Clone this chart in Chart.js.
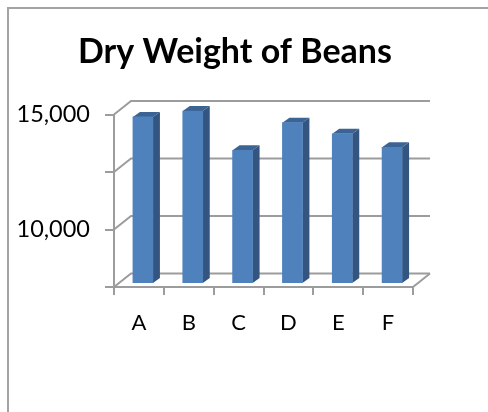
<!DOCTYPE html>
<html lang="en">
<head>
    <meta charset="UTF-8">
    <title>Dry Weight of Beans</title>
    <script src="https://cdn.jsdelivr.net/npm/chart.js"></script>
    <style>
        html, body { margin: 0; padding: 0; background: #fff; }
        #wrap { width: 488px; height: 412px; position: relative; }
    </style>
</head>
<body>
    <div id="wrap"><canvas id="beans"></canvas></div>

    <script>
    const categories = ['A', 'B', 'C', 'D', 'E', 'F'];
    const dryWeight = [14720, 14980, 13270, 14470, 13990, 13400];
    const labelledTicks = [10000, 15000];

    const GRID = '#9c9c9c';
    const FONT = 'Lato, Carlito, sans-serif';
    const WALL = { dx: 17, dy: -13.5 };   // how far the back wall sits behind the axes
    const BAR = { dx: 4, dy: -4, depthX: 7, depthY: -5 };

    // fake 3D: back wall, floor and the side/top faces of the bars
    const fake3d = {
        id: 'fake3d',
        beforeDraw(chart) {
            const { ctx } = chart;
            ctx.save();
            ctx.strokeStyle = '#a3a3a3';
            ctx.lineWidth = 2;
            ctx.beginPath();
            ctx.moveTo(8, 412);
            ctx.lineTo(8, 8);
            ctx.lineTo(488, 8);
            ctx.stroke();
            ctx.restore();
        },
        beforeDatasetsDraw(chart) {
            const { ctx, chartArea: { left, right }, scales: { y } } = chart;
            ctx.save();
            ctx.strokeStyle = GRID;
            ctx.lineWidth = 2;
            y.ticks.forEach(t => {
                const py = y.getPixelForValue(t.value);
                ctx.beginPath();
                ctx.moveTo(left, py);
                ctx.lineTo(left + WALL.dx, py + WALL.dy);
                ctx.lineTo(right + WALL.dx, py + WALL.dy);
                ctx.stroke();
            });
            // right edge of the floor
            const base = y.getPixelForValue(y.min);
            ctx.beginPath();
            ctx.moveTo(right, base);
            ctx.lineTo(right + WALL.dx, base + WALL.dy);
            ctx.stroke();
            ctx.restore();
        },
        beforeDatasetDraw(chart, args) {
            const { ctx, scales: { y } } = chart;
            const base = y.getPixelForValue(y.min);
            ctx.save();
            ctx.translate(BAR.dx, BAR.dy);
            chart.getDatasetMeta(args.index).data.forEach(bar => {
                const r = bar.x + bar.width / 2;
                const l = bar.x - bar.width / 2;
                ctx.fillStyle = '#34557f';
                ctx.beginPath();
                ctx.moveTo(r, bar.y);
                ctx.lineTo(r + BAR.depthX, bar.y + BAR.depthY);
                ctx.lineTo(r + BAR.depthX, base + BAR.depthY);
                ctx.lineTo(r, base);
                ctx.closePath();
                ctx.fill();
                ctx.fillStyle = '#3b6494';
                ctx.beginPath();
                ctx.moveTo(l, bar.y);
                ctx.lineTo(l + BAR.depthX, bar.y + BAR.depthY);
                ctx.lineTo(r + BAR.depthX, bar.y + BAR.depthY);
                ctx.lineTo(r, bar.y);
                ctx.closePath();
                ctx.fill();
            });
        },
        afterDatasetDraw(chart) {
            chart.ctx.restore();
        }
    };

    new Chart(document.getElementById('beans'), {
        type: 'bar',
        data: {
            labels: categories,
            datasets: [{
                data: dryWeight,
                backgroundColor: '#4f81bd',
                barThickness: 20
            }]
        },
        options: {
            responsive: true,
            maintainAspectRatio: false,
            animation: false,
            layout: { padding: { left: 0, right: 18, top: 0, bottom: 0 } },
            plugins: {
                legend: { display: false },
                tooltip: { enabled: false },
                title: {
                    display: true,
                    text: 'Dry Weight of Beans',
                    color: '#000',
                    font: { family: FONT, size: 34, weight: 'bold' },
                    padding: { top: 32, bottom: 41.7 }
                }
            },
            scales: {
                x: {
                    afterFit(scale) { scale.height = 125; },
                    border: { color: GRID, width: 2 },
                    grid: { color: GRID, lineWidth: 2, drawOnChartArea: false, tickLength: 8 },
                    ticks: { color: '#000', padding: 15, font: { family: FONT, size: 22 } }
                },
                y: {
                    min: 7500,
                    max: 15000,
                    afterFit(scale) { scale.width = 114; },
                    border: { color: GRID, width: 2 },
                    grid: { color: GRID, lineWidth: 2, drawOnChartArea: false, tickLength: 9 },
                    ticks: {
                        stepSize: 2500,
                        color: '#000',
                        padding: 15,
                        autoSkip: false,
                        font: { family: FONT, size: 23.5 },
                        callback: v => labelledTicks.includes(v) ? v.toLocaleString('en-US') : ''
                    }
                },
                // empty axis, only keeps the plot clear of the right side so the title centres where it should
                spacer: {
                    position: 'right',
                    afterFit(scale) { scale.width = 57; },
                    border: { display: false },
                    grid: { display: false },
                    ticks: { display: false }
                }
            }
        },
        plugins: [fake3d]
    });
    </script>
</body>
</html>
